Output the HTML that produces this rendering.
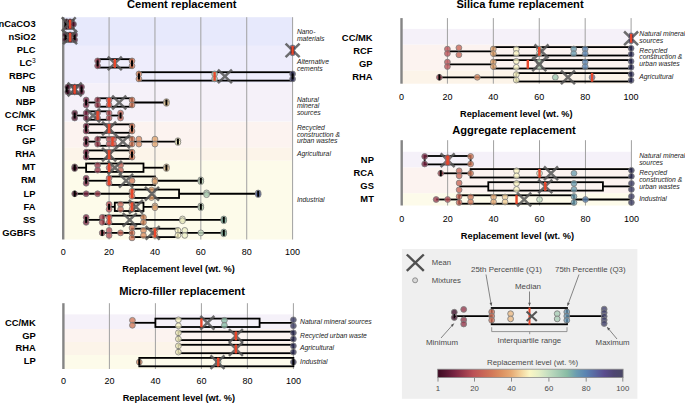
<!DOCTYPE html>
<html><head><meta charset="utf-8"><style>
html,body{margin:0;padding:0;background:#fff;}
body{width:685px;height:403px;overflow:hidden;font-family:"Liberation Sans",sans-serif;}
svg{display:block;}
</style></head><body>
<svg width="685" height="403" viewBox="0 0 685 403" font-family="'Liberation Sans', sans-serif">
<rect width="685" height="403" fill="#fff"/>
<rect x="63.20" y="17.20" width="229.40" height="28.70" fill="#e7e9fc"/>
<rect x="63.20" y="45.90" width="229.40" height="37.50" fill="#eeedfc"/>
<rect x="63.20" y="83.40" width="229.40" height="38.10" fill="#f5f1f9"/>
<rect x="63.20" y="121.70" width="229.40" height="26.00" fill="#fcf3f0"/>
<rect x="63.20" y="147.70" width="229.40" height="13.00" fill="#fcf4e9"/>
<rect x="63.20" y="160.70" width="229.40" height="78.80" fill="#fdfbea"/>
<line x1="109.08" y1="17.20" x2="109.08" y2="239.50" stroke="#a0a0a0" stroke-width="1"/>
<line x1="154.96" y1="17.20" x2="154.96" y2="239.50" stroke="#a0a0a0" stroke-width="1"/>
<line x1="200.84" y1="17.20" x2="200.84" y2="239.50" stroke="#a0a0a0" stroke-width="1"/>
<line x1="246.72" y1="17.20" x2="246.72" y2="239.50" stroke="#a0a0a0" stroke-width="1"/>
<line x1="292.60" y1="17.20" x2="292.60" y2="239.50" stroke="#a0a0a0" stroke-width="1"/>
<line x1="63.20" y1="17.20" x2="63.20" y2="239.50" stroke="#858585" stroke-width="2.4"/>
<text x="35.60" y="27.25" font-size="9.4" font-weight="bold" font-style="normal" text-anchor="end" fill="#000">nCaCO3</text>
<text x="35.60" y="40.27" font-size="9.4" font-weight="bold" font-style="normal" text-anchor="end" fill="#000">nSiO2</text>
<text x="35.60" y="53.29" font-size="9.4" font-weight="bold" font-style="normal" text-anchor="end" fill="#000">PLC</text>
<text x="35.60" y="66.31" font-size="9.4" font-weight="bold" font-style="normal" text-anchor="end" fill="#000">LC<tspan font-size="6.6" font-weight="normal" dy="-3.6">3</tspan></text>
<text x="35.60" y="79.33" font-size="9.4" font-weight="bold" font-style="normal" text-anchor="end" fill="#000">RBPC</text>
<text x="35.60" y="92.35" font-size="9.4" font-weight="bold" font-style="normal" text-anchor="end" fill="#000">NB</text>
<text x="35.60" y="105.37" font-size="9.4" font-weight="bold" font-style="normal" text-anchor="end" fill="#000">NBP</text>
<text x="35.60" y="118.39" font-size="9.4" font-weight="bold" font-style="normal" text-anchor="end" fill="#000">CC/MK</text>
<text x="35.60" y="131.41" font-size="9.4" font-weight="bold" font-style="normal" text-anchor="end" fill="#000">RCF</text>
<text x="35.60" y="144.43" font-size="9.4" font-weight="bold" font-style="normal" text-anchor="end" fill="#000">GP</text>
<text x="35.60" y="157.45" font-size="9.4" font-weight="bold" font-style="normal" text-anchor="end" fill="#000">RHA</text>
<text x="35.60" y="170.47" font-size="9.4" font-weight="bold" font-style="normal" text-anchor="end" fill="#000">MT</text>
<text x="35.60" y="183.49" font-size="9.4" font-weight="bold" font-style="normal" text-anchor="end" fill="#000">RM</text>
<text x="35.60" y="196.51" font-size="9.4" font-weight="bold" font-style="normal" text-anchor="end" fill="#000">LP</text>
<text x="35.60" y="209.53" font-size="9.4" font-weight="bold" font-style="normal" text-anchor="end" fill="#000">FA</text>
<text x="35.60" y="222.55" font-size="9.4" font-weight="bold" font-style="normal" text-anchor="end" fill="#000">SS</text>
<text x="35.60" y="235.57" font-size="9.4" font-weight="bold" font-style="normal" text-anchor="end" fill="#000">GGBFS</text>
<g><rect x="65.49" y="20.05" width="8.03" height="8.40" fill="none" stroke="#000" stroke-width="1.8"/><line x1="65.49" y1="37.29" x2="66.64" y2="37.29" stroke="#000" stroke-width="1.8"/><line x1="73.52" y1="37.29" x2="74.67" y2="37.29" stroke="#000" stroke-width="1.8"/><rect x="66.64" y="33.09" width="6.88" height="8.40" fill="none" stroke="#000" stroke-width="1.8"/><rect x="97.61" y="59.17" width="34.41" height="8.40" fill="none" stroke="#000" stroke-width="1.8"/><rect x="138.90" y="72.21" width="153.70" height="8.40" fill="none" stroke="#000" stroke-width="1.8"/><line x1="66.64" y1="89.45" x2="67.79" y2="89.45" stroke="#000" stroke-width="1.8"/><rect x="67.79" y="85.25" width="13.76" height="8.40" fill="none" stroke="#000" stroke-width="1.8"/><line x1="86.14" y1="102.49" x2="97.61" y2="102.49" stroke="#000" stroke-width="1.8"/><line x1="132.02" y1="102.49" x2="166.43" y2="102.49" stroke="#000" stroke-width="1.8"/><rect x="97.61" y="98.29" width="34.41" height="8.40" fill="none" stroke="#000" stroke-width="1.8"/><line x1="74.67" y1="115.53" x2="86.14" y2="115.53" stroke="#000" stroke-width="1.8"/><line x1="109.08" y1="115.53" x2="120.55" y2="115.53" stroke="#000" stroke-width="1.8"/><rect x="86.14" y="111.33" width="22.94" height="8.40" fill="none" stroke="#000" stroke-width="1.8"/><rect x="86.14" y="124.37" width="45.88" height="8.40" fill="none" stroke="#000" stroke-width="1.8"/><line x1="86.14" y1="141.61" x2="97.61" y2="141.61" stroke="#000" stroke-width="1.8"/><line x1="132.02" y1="141.61" x2="177.90" y2="141.61" stroke="#000" stroke-width="1.8"/><rect x="97.61" y="137.41" width="34.41" height="8.40" fill="none" stroke="#000" stroke-width="1.8"/><rect x="86.14" y="150.45" width="45.88" height="8.40" fill="none" stroke="#000" stroke-width="1.8"/><line x1="74.67" y1="167.69" x2="86.14" y2="167.69" stroke="#000" stroke-width="1.8"/><line x1="143.49" y1="167.69" x2="166.43" y2="167.69" stroke="#000" stroke-width="1.8"/><rect x="86.14" y="163.49" width="57.35" height="8.40" fill="none" stroke="#000" stroke-width="1.8"/><line x1="86.14" y1="180.73" x2="109.08" y2="180.73" stroke="#000" stroke-width="1.8"/><line x1="154.96" y1="180.73" x2="200.84" y2="180.73" stroke="#000" stroke-width="1.8"/><rect x="109.08" y="176.53" width="45.88" height="8.40" fill="none" stroke="#000" stroke-width="1.8"/><line x1="74.67" y1="193.77" x2="132.02" y2="193.77" stroke="#000" stroke-width="1.8"/><line x1="179.05" y1="193.77" x2="258.19" y2="193.77" stroke="#000" stroke-width="1.8"/><rect x="132.02" y="189.57" width="47.03" height="8.40" fill="none" stroke="#000" stroke-width="1.8"/><line x1="109.08" y1="206.81" x2="114.81" y2="206.81" stroke="#000" stroke-width="1.8"/><line x1="143.49" y1="206.81" x2="200.84" y2="206.81" stroke="#000" stroke-width="1.8"/><rect x="114.81" y="202.61" width="28.68" height="8.40" fill="none" stroke="#000" stroke-width="1.8"/><line x1="86.14" y1="219.85" x2="103.34" y2="219.85" stroke="#000" stroke-width="1.8"/><line x1="143.49" y1="219.85" x2="223.78" y2="219.85" stroke="#000" stroke-width="1.8"/><rect x="103.34" y="215.65" width="40.15" height="8.40" fill="none" stroke="#000" stroke-width="1.8"/><line x1="102.20" y1="232.89" x2="132.02" y2="232.89" stroke="#000" stroke-width="1.8"/><line x1="177.90" y1="232.89" x2="223.78" y2="232.89" stroke="#000" stroke-width="1.8"/><rect x="132.02" y="228.69" width="45.88" height="8.40" fill="none" stroke="#000" stroke-width="1.8"/></g>
<g stroke="#555" stroke-width="2.5" stroke-opacity="0.85" fill="none"><path d="M285.60,43.53L299.60,57.13M299.60,43.53L285.60,57.13"/></g>
<g stroke="#7c7c7c" stroke-width="0.8" fill-opacity="0.78"><circle cx="66.64" cy="21.75" r="2.9" fill="#410b24"/><circle cx="66.64" cy="26.75" r="2.9" fill="#410b24"/><circle cx="70.08" cy="21.75" r="2.9" fill="#491029"/><circle cx="70.08" cy="26.75" r="2.9" fill="#491029"/><circle cx="73.52" cy="24.25" r="2.9" fill="#51142e"/><circle cx="65.49" cy="34.79" r="2.9" fill="#3e0a22"/><circle cx="65.49" cy="39.79" r="2.9" fill="#3e0a22"/><circle cx="70.08" cy="34.79" r="2.9" fill="#491029"/><circle cx="70.08" cy="39.79" r="2.9" fill="#491029"/><circle cx="74.67" cy="34.79" r="2.9" fill="#541530"/><circle cx="74.67" cy="39.79" r="2.9" fill="#541530"/><circle cx="292.60" cy="47.83" r="2.9" fill="#34345c"/><circle cx="292.60" cy="52.83" r="2.9" fill="#34345c"/><circle cx="97.61" cy="60.87" r="2.9" fill="#9a3a4c"/><circle cx="97.61" cy="65.87" r="2.9" fill="#9a3a4c"/><circle cx="132.02" cy="60.87" r="2.9" fill="#d27858"/><circle cx="132.02" cy="65.87" r="2.9" fill="#d27858"/><circle cx="138.90" cy="73.91" r="2.9" fill="#d8865d"/><circle cx="138.90" cy="78.91" r="2.9" fill="#d8865d"/><circle cx="214.60" cy="73.91" r="2.9" fill="#a0c9b1"/><circle cx="214.60" cy="78.91" r="2.9" fill="#a0c9b1"/><circle cx="292.60" cy="73.91" r="2.9" fill="#34345c"/><circle cx="292.60" cy="78.91" r="2.9" fill="#34345c"/><circle cx="67.79" cy="86.95" r="2.9" fill="#440d26"/><circle cx="67.79" cy="91.95" r="2.9" fill="#440d26"/><circle cx="74.67" cy="86.95" r="2.9" fill="#541530"/><circle cx="74.67" cy="91.95" r="2.9" fill="#541530"/><circle cx="81.55" cy="86.95" r="2.9" fill="#6a1e3b"/><circle cx="81.55" cy="91.95" r="2.9" fill="#6a1e3b"/><circle cx="86.14" cy="99.99" r="2.9" fill="#782442"/><circle cx="86.14" cy="104.99" r="2.9" fill="#782442"/><circle cx="97.61" cy="99.99" r="2.9" fill="#9a3a4c"/><circle cx="97.61" cy="104.99" r="2.9" fill="#9a3a4c"/><circle cx="109.08" cy="99.99" r="2.9" fill="#bb5157"/><circle cx="109.08" cy="104.99" r="2.9" fill="#bb5157"/><circle cx="132.02" cy="99.99" r="2.9" fill="#d27858"/><circle cx="132.02" cy="104.99" r="2.9" fill="#d27858"/><circle cx="166.43" cy="101.59" r="2.9" fill="#f2cf98"/><circle cx="166.43" cy="103.39" r="2.9" fill="#f2cf98"/><circle cx="74.67" cy="113.03" r="2.9" fill="#541530"/><circle cx="74.67" cy="118.03" r="2.9" fill="#541530"/><circle cx="86.14" cy="113.03" r="2.9" fill="#782442"/><circle cx="86.14" cy="118.03" r="2.9" fill="#782442"/><circle cx="97.61" cy="113.03" r="2.9" fill="#9a3a4c"/><circle cx="97.61" cy="118.03" r="2.9" fill="#9a3a4c"/><circle cx="109.08" cy="113.03" r="2.9" fill="#bb5157"/><circle cx="109.08" cy="118.03" r="2.9" fill="#bb5157"/><circle cx="120.55" cy="113.03" r="2.9" fill="#c86456"/><circle cx="120.55" cy="118.03" r="2.9" fill="#c86456"/><circle cx="86.14" cy="126.07" r="2.9" fill="#782442"/><circle cx="86.14" cy="131.07" r="2.9" fill="#782442"/><circle cx="109.08" cy="126.07" r="2.9" fill="#bb5157"/><circle cx="109.08" cy="131.07" r="2.9" fill="#bb5157"/><circle cx="132.02" cy="126.07" r="2.9" fill="#d27858"/><circle cx="132.02" cy="131.07" r="2.9" fill="#d27858"/><circle cx="86.14" cy="139.11" r="2.9" fill="#782442"/><circle cx="86.14" cy="144.11" r="2.9" fill="#782442"/><circle cx="97.61" cy="139.11" r="2.9" fill="#9a3a4c"/><circle cx="97.61" cy="144.11" r="2.9" fill="#9a3a4c"/><circle cx="109.08" cy="139.11" r="2.9" fill="#bb5157"/><circle cx="109.08" cy="144.11" r="2.9" fill="#bb5157"/><circle cx="113.67" cy="139.11" r="2.9" fill="#c05957"/><circle cx="113.67" cy="144.11" r="2.9" fill="#c05957"/><circle cx="132.02" cy="139.11" r="2.9" fill="#d27858"/><circle cx="132.02" cy="144.11" r="2.9" fill="#d27858"/><circle cx="138.90" cy="139.11" r="2.9" fill="#d8865d"/><circle cx="138.90" cy="144.11" r="2.9" fill="#d8865d"/><circle cx="154.96" cy="139.11" r="2.9" fill="#e6a872"/><circle cx="154.96" cy="144.11" r="2.9" fill="#e6a872"/><circle cx="177.90" cy="140.71" r="2.9" fill="#fbf6c4"/><circle cx="177.90" cy="142.51" r="2.9" fill="#fbf6c4"/><circle cx="86.14" cy="152.15" r="2.9" fill="#782442"/><circle cx="86.14" cy="157.15" r="2.9" fill="#782442"/><circle cx="109.08" cy="152.15" r="2.9" fill="#bb5157"/><circle cx="109.08" cy="157.15" r="2.9" fill="#bb5157"/><circle cx="132.02" cy="152.15" r="2.9" fill="#d27858"/><circle cx="132.02" cy="157.15" r="2.9" fill="#d27858"/><circle cx="74.67" cy="166.79" r="2.9" fill="#541530"/><circle cx="74.67" cy="168.59" r="2.9" fill="#541530"/><circle cx="97.61" cy="165.19" r="2.9" fill="#9a3a4c"/><circle cx="97.61" cy="170.19" r="2.9" fill="#9a3a4c"/><circle cx="109.08" cy="167.69" r="2.9" fill="#bb5157"/><circle cx="120.55" cy="165.19" r="2.9" fill="#c86456"/><circle cx="120.55" cy="170.19" r="2.9" fill="#c86456"/><circle cx="166.43" cy="166.79" r="2.9" fill="#f2cf98"/><circle cx="166.43" cy="168.59" r="2.9" fill="#f2cf98"/><circle cx="86.14" cy="178.23" r="2.9" fill="#782442"/><circle cx="86.14" cy="183.23" r="2.9" fill="#782442"/><circle cx="109.08" cy="178.23" r="2.9" fill="#bb5157"/><circle cx="109.08" cy="183.23" r="2.9" fill="#bb5157"/><circle cx="132.02" cy="180.73" r="2.9" fill="#d27858"/><circle cx="154.96" cy="179.83" r="2.9" fill="#e6a872"/><circle cx="154.96" cy="181.63" r="2.9" fill="#e6a872"/><circle cx="200.84" cy="179.83" r="2.9" fill="#c4dec0"/><circle cx="200.84" cy="181.63" r="2.9" fill="#c4dec0"/><circle cx="74.67" cy="193.77" r="2.9" fill="#541530"/><circle cx="86.14" cy="193.77" r="2.9" fill="#782442"/><circle cx="97.61" cy="193.77" r="2.9" fill="#9a3a4c"/><circle cx="132.02" cy="191.27" r="2.9" fill="#d27858"/><circle cx="132.02" cy="196.27" r="2.9" fill="#d27858"/><circle cx="151.52" cy="189.97" r="2.9" fill="#e3a16d"/><circle cx="151.52" cy="197.57" r="2.9" fill="#e3a16d"/><circle cx="206.57" cy="192.87" r="2.9" fill="#b5d5ba"/><circle cx="206.57" cy="194.67" r="2.9" fill="#b5d5ba"/><circle cx="258.19" cy="192.97" r="2.9" fill="#5a68a2"/><circle cx="258.19" cy="194.57" r="2.9" fill="#5a68a2"/><circle cx="109.08" cy="204.31" r="2.9" fill="#bb5157"/><circle cx="109.08" cy="209.31" r="2.9" fill="#bb5157"/><circle cx="120.55" cy="204.31" r="2.9" fill="#c86456"/><circle cx="120.55" cy="209.31" r="2.9" fill="#c86456"/><circle cx="132.02" cy="204.31" r="2.9" fill="#d27858"/><circle cx="132.02" cy="209.31" r="2.9" fill="#d27858"/><circle cx="154.96" cy="205.91" r="2.9" fill="#e6a872"/><circle cx="154.96" cy="207.71" r="2.9" fill="#e6a872"/><circle cx="200.84" cy="205.91" r="2.9" fill="#c4dec0"/><circle cx="200.84" cy="207.71" r="2.9" fill="#c4dec0"/><circle cx="86.14" cy="217.35" r="2.9" fill="#782442"/><circle cx="86.14" cy="222.35" r="2.9" fill="#782442"/><circle cx="102.20" cy="217.35" r="2.9" fill="#a74350"/><circle cx="102.20" cy="222.35" r="2.9" fill="#a74350"/><circle cx="109.08" cy="217.35" r="2.9" fill="#bb5157"/><circle cx="109.08" cy="222.35" r="2.9" fill="#bb5157"/><circle cx="143.49" cy="217.35" r="2.9" fill="#dc9060"/><circle cx="143.49" cy="222.35" r="2.9" fill="#dc9060"/><circle cx="182.49" cy="218.95" r="2.9" fill="#f2f3c5"/><circle cx="182.49" cy="220.75" r="2.9" fill="#f2f3c5"/><circle cx="223.78" cy="218.95" r="2.9" fill="#88bca4"/><circle cx="223.78" cy="220.75" r="2.9" fill="#88bca4"/><circle cx="102.20" cy="232.89" r="2.9" fill="#a74350"/><circle cx="109.08" cy="230.39" r="2.9" fill="#bb5157"/><circle cx="109.08" cy="235.39" r="2.9" fill="#bb5157"/><circle cx="120.55" cy="232.89" r="2.9" fill="#c86456"/><circle cx="132.02" cy="227.89" r="2.9" fill="#d27858"/><circle cx="132.02" cy="232.89" r="2.9" fill="#d27858"/><circle cx="132.02" cy="237.89" r="2.9" fill="#d27858"/><circle cx="143.49" cy="230.39" r="2.9" fill="#dc9060"/><circle cx="143.49" cy="235.39" r="2.9" fill="#dc9060"/><circle cx="154.96" cy="230.39" r="2.9" fill="#e6a872"/><circle cx="154.96" cy="235.39" r="2.9" fill="#e6a872"/><circle cx="177.90" cy="230.39" r="2.9" fill="#fbf6c4"/><circle cx="177.90" cy="235.39" r="2.9" fill="#fbf6c4"/><circle cx="184.78" cy="230.39" r="2.9" fill="#edf1c5"/><circle cx="184.78" cy="235.39" r="2.9" fill="#edf1c5"/><circle cx="200.84" cy="232.89" r="2.9" fill="#c4dec0"/><circle cx="223.78" cy="231.99" r="2.9" fill="#88bca4"/><circle cx="223.78" cy="233.79" r="2.9" fill="#88bca4"/></g>
<g stroke="#000" stroke-width="2.0"><line x1="65.49" y1="21.25" x2="65.49" y2="27.25"/><line x1="65.49" y1="34.29" x2="65.49" y2="40.29"/><line x1="74.67" y1="34.29" x2="74.67" y2="40.29"/><line x1="292.60" y1="47.33" x2="292.60" y2="53.33"/><line x1="292.60" y1="47.33" x2="292.60" y2="53.33"/><line x1="97.61" y1="60.37" x2="97.61" y2="66.37"/><line x1="132.02" y1="60.37" x2="132.02" y2="66.37"/><line x1="138.90" y1="73.41" x2="138.90" y2="79.41"/><line x1="292.60" y1="73.41" x2="292.60" y2="79.41"/><line x1="66.64" y1="86.45" x2="66.64" y2="92.45"/><line x1="81.55" y1="86.45" x2="81.55" y2="92.45"/><line x1="86.14" y1="99.49" x2="86.14" y2="105.49"/><line x1="166.43" y1="99.49" x2="166.43" y2="105.49"/><line x1="74.67" y1="112.53" x2="74.67" y2="118.53"/><line x1="120.55" y1="112.53" x2="120.55" y2="118.53"/><line x1="86.14" y1="125.57" x2="86.14" y2="131.57"/><line x1="132.02" y1="125.57" x2="132.02" y2="131.57"/><line x1="86.14" y1="138.61" x2="86.14" y2="144.61"/><line x1="177.90" y1="138.61" x2="177.90" y2="144.61"/><line x1="86.14" y1="151.65" x2="86.14" y2="157.65"/><line x1="132.02" y1="151.65" x2="132.02" y2="157.65"/><line x1="74.67" y1="164.69" x2="74.67" y2="170.69"/><line x1="166.43" y1="164.69" x2="166.43" y2="170.69"/><line x1="86.14" y1="177.73" x2="86.14" y2="183.73"/><line x1="200.84" y1="177.73" x2="200.84" y2="183.73"/><line x1="74.67" y1="190.77" x2="74.67" y2="196.77"/><line x1="258.19" y1="190.77" x2="258.19" y2="196.77"/><line x1="109.08" y1="203.81" x2="109.08" y2="209.81"/><line x1="200.84" y1="203.81" x2="200.84" y2="209.81"/><line x1="86.14" y1="216.85" x2="86.14" y2="222.85"/><line x1="223.78" y1="216.85" x2="223.78" y2="222.85"/><line x1="102.20" y1="229.89" x2="102.20" y2="235.89"/><line x1="223.78" y1="229.89" x2="223.78" y2="235.89"/></g>
<g stroke="#555" stroke-width="2.5" stroke-opacity="0.85" fill="none"><path d="M61.71,17.45L75.71,31.05M75.71,17.45L61.71,31.05"/><path d="M63.08,30.49L77.08,44.09M77.08,30.49L63.08,44.09"/><path d="M107.81,56.57L121.81,70.17M121.81,56.57L107.81,70.17"/><path d="M217.93,69.61L231.93,83.21M231.93,69.61L217.93,83.21"/><path d="M67.67,82.65L81.67,96.25M81.67,82.65L67.67,96.25"/><path d="M112.17,95.69L126.17,109.29M126.17,95.69L112.17,109.29"/><path d="M86.02,108.73L100.02,122.33M100.02,108.73L86.02,122.33"/><path d="M102.08,121.77L116.08,135.37M116.08,121.77L102.08,135.37"/><path d="M115.84,134.81L129.84,148.41M129.84,134.81L115.84,148.41"/><path d="M102.08,147.85L116.08,161.45M116.08,147.85L102.08,161.45"/><path d="M107.81,160.89L121.81,174.49M121.81,160.89L107.81,174.49"/><path d="M119.06,173.93L133.06,187.53M133.06,173.93L119.06,187.53"/><path d="M144.98,186.97L158.98,200.57M158.98,186.97L144.98,200.57"/><path d="M128.92,200.01L142.92,213.61M142.92,200.01L128.92,213.61"/><path d="M122.73,213.05L136.73,226.65M136.73,213.05L122.73,226.65"/><path d="M145.67,226.09L159.67,239.69M159.67,226.09L145.67,239.69"/></g>
<g stroke="#e8472b" stroke-width="2.4"><line x1="70.08" y1="19.85" x2="70.08" y2="28.65"/><line x1="70.08" y1="32.89" x2="70.08" y2="41.69"/><line x1="292.60" y1="45.93" x2="292.60" y2="54.73"/><line x1="114.81" y1="58.97" x2="114.81" y2="67.77"/><line x1="214.60" y1="72.01" x2="214.60" y2="80.81"/><line x1="74.67" y1="85.05" x2="74.67" y2="93.85"/><line x1="109.08" y1="98.09" x2="109.08" y2="106.89"/><line x1="97.61" y1="111.13" x2="97.61" y2="119.93"/><line x1="109.08" y1="124.17" x2="109.08" y2="132.97"/><line x1="112.52" y1="137.21" x2="112.52" y2="146.01"/><line x1="109.08" y1="150.25" x2="109.08" y2="159.05"/><line x1="109.08" y1="163.29" x2="109.08" y2="172.09"/><line x1="109.08" y1="176.33" x2="109.08" y2="185.13"/><line x1="132.02" y1="189.37" x2="132.02" y2="198.17"/><line x1="132.02" y1="202.41" x2="132.02" y2="211.21"/><line x1="109.08" y1="215.45" x2="109.08" y2="224.25"/><line x1="154.96" y1="228.49" x2="154.96" y2="237.29"/></g>
<text x="63.20" y="255.20" font-size="9" font-weight="normal" font-style="normal" text-anchor="middle" fill="#000">0</text>
<text x="109.08" y="255.20" font-size="9" font-weight="normal" font-style="normal" text-anchor="middle" fill="#000">20</text>
<text x="154.96" y="255.20" font-size="9" font-weight="normal" font-style="normal" text-anchor="middle" fill="#000">40</text>
<text x="200.84" y="255.20" font-size="9" font-weight="normal" font-style="normal" text-anchor="middle" fill="#000">60</text>
<text x="246.72" y="255.20" font-size="9" font-weight="normal" font-style="normal" text-anchor="middle" fill="#000">80</text>
<text x="292.60" y="255.20" font-size="9" font-weight="normal" font-style="normal" text-anchor="middle" fill="#000">100</text>
<text x="122.30" y="272.30" font-size="9.4" font-weight="bold" font-style="normal" text-anchor="start" fill="#000" textLength="112.4" lengthAdjust="spacingAndGlyphs">Replacement level (wt. %)</text>
<text x="126.90" y="8.20" font-size="10.6" font-weight="bold" font-style="normal" text-anchor="start" fill="#000" textLength="109.7" lengthAdjust="spacingAndGlyphs">Cement replacement</text>
<text x="296.90" y="33.90" font-size="6.8" font-weight="normal" font-style="italic" text-anchor="start" fill="#222">Nano-</text>
<text x="296.90" y="40.90" font-size="6.8" font-weight="normal" font-style="italic" text-anchor="start" fill="#222">materials</text>
<text x="296.90" y="64.00" font-size="6.8" font-weight="normal" font-style="italic" text-anchor="start" fill="#222">Alternative</text>
<text x="296.90" y="70.70" font-size="6.8" font-weight="normal" font-style="italic" text-anchor="start" fill="#222">cements</text>
<text x="296.90" y="101.60" font-size="6.8" font-weight="normal" font-style="italic" text-anchor="start" fill="#222">Natural</text>
<text x="296.90" y="108.10" font-size="6.8" font-weight="normal" font-style="italic" text-anchor="start" fill="#222">mineral</text>
<text x="296.90" y="114.70" font-size="6.8" font-weight="normal" font-style="italic" text-anchor="start" fill="#222">sources</text>
<text x="296.90" y="130.00" font-size="6.8" font-weight="normal" font-style="italic" text-anchor="start" fill="#222">Recycled</text>
<text x="296.90" y="136.70" font-size="6.8" font-weight="normal" font-style="italic" text-anchor="start" fill="#222">construction &amp;</text>
<text x="296.90" y="143.40" font-size="6.8" font-weight="normal" font-style="italic" text-anchor="start" fill="#222">urban wastes</text>
<text x="296.90" y="156.30" font-size="6.8" font-weight="normal" font-style="italic" text-anchor="start" fill="#222">Agricultural</text>
<text x="296.90" y="202.10" font-size="6.8" font-weight="normal" font-style="italic" text-anchor="start" fill="#222">Industrial</text>
<rect x="401.50" y="28.90" width="229.60" height="15.80" fill="#f5f1f9"/>
<rect x="401.50" y="44.70" width="229.60" height="26.00" fill="#fcf3f0"/>
<rect x="401.50" y="70.70" width="229.60" height="13.00" fill="#fcf4e9"/>
<line x1="447.42" y1="18.10" x2="447.42" y2="83.70" stroke="#a0a0a0" stroke-width="1"/>
<line x1="493.34" y1="18.10" x2="493.34" y2="83.70" stroke="#a0a0a0" stroke-width="1"/>
<line x1="539.26" y1="18.10" x2="539.26" y2="83.70" stroke="#a0a0a0" stroke-width="1"/>
<line x1="585.18" y1="18.10" x2="585.18" y2="83.70" stroke="#a0a0a0" stroke-width="1"/>
<line x1="631.10" y1="18.10" x2="631.10" y2="83.70" stroke="#a0a0a0" stroke-width="1"/>
<line x1="401.50" y1="18.10" x2="401.50" y2="83.70" stroke="#858585" stroke-width="2.4"/>
<text x="372.60" y="41.00" font-size="9.4" font-weight="bold" font-style="normal" text-anchor="end" fill="#000">CC/MK</text>
<text x="372.60" y="53.90" font-size="9.4" font-weight="bold" font-style="normal" text-anchor="end" fill="#000">RCF</text>
<text x="372.60" y="66.80" font-size="9.4" font-weight="bold" font-style="normal" text-anchor="end" fill="#000">GP</text>
<text x="372.60" y="79.70" font-size="9.4" font-weight="bold" font-style="normal" text-anchor="end" fill="#000">RHA</text>
<g><line x1="447.42" y1="51.30" x2="493.34" y2="51.30" stroke="#000" stroke-width="1.8"/><rect x="493.34" y="47.10" width="137.76" height="8.40" fill="none" stroke="#000" stroke-width="1.8"/><line x1="447.42" y1="64.30" x2="493.34" y2="64.30" stroke="#000" stroke-width="1.8"/><rect x="493.34" y="60.10" width="137.76" height="8.40" fill="none" stroke="#000" stroke-width="1.8"/><line x1="439.38" y1="77.30" x2="516.30" y2="77.30" stroke="#000" stroke-width="1.8"/><rect x="516.30" y="73.10" width="114.80" height="8.40" fill="none" stroke="#000" stroke-width="1.8"/></g>
<g stroke="#555" stroke-width="2.5" stroke-opacity="0.85" fill="none"><path d="M624.10,31.50L638.10,45.10M638.10,31.50L624.10,45.10"/></g>
<g stroke="#7c7c7c" stroke-width="0.8" fill-opacity="0.78"><circle cx="631.10" cy="35.80" r="2.9" fill="#34345c"/><circle cx="631.10" cy="40.80" r="2.9" fill="#34345c"/><circle cx="447.42" cy="49.10" r="2.9" fill="#bb5157"/><circle cx="447.42" cy="53.50" r="2.9" fill="#bb5157"/><circle cx="458.90" cy="47.80" r="2.9" fill="#c86456"/><circle cx="458.90" cy="54.80" r="2.9" fill="#c86456"/><circle cx="493.34" cy="49.00" r="2.9" fill="#e6a872"/><circle cx="493.34" cy="53.60" r="2.9" fill="#e6a872"/><circle cx="516.30" cy="49.20" r="2.9" fill="#fbf6c4"/><circle cx="516.30" cy="53.40" r="2.9" fill="#fbf6c4"/><circle cx="539.26" cy="49.00" r="2.9" fill="#c4dec0"/><circle cx="539.26" cy="53.60" r="2.9" fill="#c4dec0"/><circle cx="573.70" cy="49.00" r="2.9" fill="#6a9cb0"/><circle cx="573.70" cy="53.60" r="2.9" fill="#6a9cb0"/><circle cx="585.18" cy="49.00" r="2.9" fill="#5a84b2"/><circle cx="585.18" cy="53.60" r="2.9" fill="#5a84b2"/><circle cx="631.10" cy="48.30" r="2.9" fill="#34345c"/><circle cx="631.10" cy="54.30" r="2.9" fill="#34345c"/><circle cx="447.42" cy="62.10" r="2.9" fill="#bb5157"/><circle cx="447.42" cy="66.50" r="2.9" fill="#bb5157"/><circle cx="493.34" cy="62.00" r="2.9" fill="#e6a872"/><circle cx="493.34" cy="66.60" r="2.9" fill="#e6a872"/><circle cx="516.30" cy="61.30" r="2.9" fill="#fbf6c4"/><circle cx="516.30" cy="67.30" r="2.9" fill="#fbf6c4"/><circle cx="539.26" cy="62.00" r="2.9" fill="#c4dec0"/><circle cx="539.26" cy="66.60" r="2.9" fill="#c4dec0"/><circle cx="585.18" cy="62.00" r="2.9" fill="#5a84b2"/><circle cx="585.18" cy="66.60" r="2.9" fill="#5a84b2"/><circle cx="631.10" cy="61.30" r="2.9" fill="#34345c"/><circle cx="631.10" cy="67.30" r="2.9" fill="#34345c"/><circle cx="439.38" cy="77.30" r="2.9" fill="#a4414f"/><circle cx="477.27" cy="77.30" r="2.9" fill="#d8865d"/><circle cx="516.30" cy="74.55" r="2.9" fill="#fbf6c4"/><circle cx="516.30" cy="80.05" r="2.9" fill="#fbf6c4"/><circle cx="555.33" cy="77.30" r="2.9" fill="#9ac6ae"/><circle cx="592.07" cy="77.30" r="2.9" fill="#5a73a8"/><circle cx="631.10" cy="74.30" r="2.9" fill="#34345c"/><circle cx="631.10" cy="80.30" r="2.9" fill="#34345c"/></g>
<g stroke="#000" stroke-width="2.0"><line x1="631.10" y1="35.30" x2="631.10" y2="41.30"/><line x1="631.10" y1="35.30" x2="631.10" y2="41.30"/><line x1="439.38" y1="74.30" x2="439.38" y2="80.30"/></g>
<g stroke="#555" stroke-width="2.5" stroke-opacity="0.85" fill="none"><path d="M534.56,44.50L548.56,58.10M548.56,44.50L534.56,58.10"/><path d="M532.26,57.50L546.26,71.10M546.26,57.50L532.26,71.10"/><path d="M560.96,70.50L574.96,84.10M574.96,70.50L560.96,84.10"/></g>
<g stroke="#e8472b" stroke-width="2.4"><line x1="631.10" y1="33.90" x2="631.10" y2="42.70"/><line x1="539.26" y1="46.90" x2="539.26" y2="55.70"/><line x1="527.78" y1="59.90" x2="527.78" y2="68.70"/><line x1="592.07" y1="72.90" x2="592.07" y2="81.70"/></g>
<text x="401.50" y="99.60" font-size="9" font-weight="normal" font-style="normal" text-anchor="middle" fill="#000">0</text>
<text x="447.42" y="99.60" font-size="9" font-weight="normal" font-style="normal" text-anchor="middle" fill="#000">20</text>
<text x="493.34" y="99.60" font-size="9" font-weight="normal" font-style="normal" text-anchor="middle" fill="#000">40</text>
<text x="539.26" y="99.60" font-size="9" font-weight="normal" font-style="normal" text-anchor="middle" fill="#000">60</text>
<text x="585.18" y="99.60" font-size="9" font-weight="normal" font-style="normal" text-anchor="middle" fill="#000">80</text>
<text x="631.10" y="99.60" font-size="9" font-weight="normal" font-style="normal" text-anchor="middle" fill="#000">100</text>
<text x="460.00" y="116.80" font-size="9.4" font-weight="bold" font-style="normal" text-anchor="start" fill="#000" textLength="112.5" lengthAdjust="spacingAndGlyphs">Replacement level (wt. %)</text>
<text x="456.40" y="8.40" font-size="10.6" font-weight="bold" font-style="normal" text-anchor="start" fill="#000" textLength="127.2" lengthAdjust="spacingAndGlyphs">Silica fume replacement</text>
<text x="639.30" y="35.90" font-size="6.8" font-weight="normal" font-style="italic" text-anchor="start" fill="#222">Natural mineral</text>
<text x="639.30" y="42.60" font-size="6.8" font-weight="normal" font-style="italic" text-anchor="start" fill="#222">sources</text>
<text x="639.30" y="52.50" font-size="6.8" font-weight="normal" font-style="italic" text-anchor="start" fill="#222">Recycled</text>
<text x="639.30" y="59.40" font-size="6.8" font-weight="normal" font-style="italic" text-anchor="start" fill="#222">construction &amp;</text>
<text x="639.30" y="66.40" font-size="6.8" font-weight="normal" font-style="italic" text-anchor="start" fill="#222">urban wastes</text>
<text x="639.30" y="78.80" font-size="6.8" font-weight="normal" font-style="italic" text-anchor="start" fill="#222">Agricultural</text>
<rect x="401.70" y="151.80" width="229.70" height="15.70" fill="#f5f1f9"/>
<rect x="401.70" y="167.50" width="229.70" height="25.70" fill="#fcf3f0"/>
<rect x="401.70" y="193.20" width="229.70" height="12.30" fill="#fdfbea"/>
<line x1="447.64" y1="140.20" x2="447.64" y2="205.50" stroke="#a0a0a0" stroke-width="1"/>
<line x1="493.58" y1="140.20" x2="493.58" y2="205.50" stroke="#a0a0a0" stroke-width="1"/>
<line x1="539.52" y1="140.20" x2="539.52" y2="205.50" stroke="#a0a0a0" stroke-width="1"/>
<line x1="585.46" y1="140.20" x2="585.46" y2="205.50" stroke="#a0a0a0" stroke-width="1"/>
<line x1="631.40" y1="140.20" x2="631.40" y2="205.50" stroke="#a0a0a0" stroke-width="1"/>
<line x1="401.70" y1="140.20" x2="401.70" y2="205.50" stroke="#858585" stroke-width="2.4"/>
<text x="373.90" y="162.80" font-size="9.4" font-weight="bold" font-style="normal" text-anchor="end" fill="#000">NP</text>
<text x="373.90" y="175.73" font-size="9.4" font-weight="bold" font-style="normal" text-anchor="end" fill="#000">RCA</text>
<text x="373.90" y="188.66" font-size="9.4" font-weight="bold" font-style="normal" text-anchor="end" fill="#000">GS</text>
<text x="373.90" y="201.59" font-size="9.4" font-weight="bold" font-style="normal" text-anchor="end" fill="#000">MT</text>
<g><rect x="424.67" y="156.00" width="45.94" height="8.40" fill="none" stroke="#000" stroke-width="1.8"/><line x1="440.75" y1="173.30" x2="470.61" y2="173.30" stroke="#000" stroke-width="1.8"/><rect x="470.61" y="169.10" width="160.79" height="8.40" fill="none" stroke="#000" stroke-width="1.8"/><line x1="459.12" y1="186.40" x2="488.30" y2="186.40" stroke="#000" stroke-width="1.8"/><line x1="602.92" y1="186.40" x2="631.40" y2="186.40" stroke="#000" stroke-width="1.8"/><rect x="488.30" y="182.20" width="114.62" height="8.40" fill="none" stroke="#000" stroke-width="1.8"/><line x1="436.15" y1="199.50" x2="459.12" y2="199.50" stroke="#000" stroke-width="1.8"/><line x1="573.98" y1="199.50" x2="631.40" y2="199.50" stroke="#000" stroke-width="1.8"/><rect x="459.12" y="195.30" width="114.85" height="8.40" fill="none" stroke="#000" stroke-width="1.8"/></g>
<g stroke="#555" stroke-width="2.5" stroke-opacity="0.85" fill="none"><path d="M440.64,153.40L454.64,167.00M454.64,153.40L440.64,167.00"/></g>
<g stroke="#7c7c7c" stroke-width="0.8" fill-opacity="0.78"><circle cx="424.67" cy="156.40" r="2.9" fill="#782442"/><circle cx="424.67" cy="164.00" r="2.9" fill="#782442"/><circle cx="447.64" cy="157.70" r="2.9" fill="#bb5157"/><circle cx="447.64" cy="162.70" r="2.9" fill="#bb5157"/><circle cx="470.61" cy="156.40" r="2.9" fill="#d27858"/><circle cx="470.61" cy="164.00" r="2.9" fill="#d27858"/><circle cx="440.75" cy="173.30" r="2.9" fill="#a74350"/><circle cx="459.12" cy="170.80" r="2.9" fill="#c86456"/><circle cx="459.12" cy="175.80" r="2.9" fill="#c86456"/><circle cx="470.61" cy="173.30" r="2.9" fill="#d27858"/><circle cx="516.55" cy="170.80" r="2.9" fill="#fbf6c4"/><circle cx="516.55" cy="175.80" r="2.9" fill="#fbf6c4"/><circle cx="539.52" cy="173.30" r="2.9" fill="#c4dec0"/><circle cx="573.98" cy="173.30" r="2.9" fill="#6a9cb0"/><circle cx="631.40" cy="170.30" r="2.9" fill="#34345c"/><circle cx="631.40" cy="176.30" r="2.9" fill="#34345c"/><circle cx="459.12" cy="183.00" r="2.9" fill="#c86456"/><circle cx="459.12" cy="189.80" r="2.9" fill="#c86456"/><circle cx="516.55" cy="183.40" r="2.9" fill="#fbf6c4"/><circle cx="516.55" cy="189.40" r="2.9" fill="#fbf6c4"/><circle cx="573.98" cy="183.40" r="2.9" fill="#6a9cb0"/><circle cx="573.98" cy="189.40" r="2.9" fill="#6a9cb0"/><circle cx="631.40" cy="183.40" r="2.9" fill="#34345c"/><circle cx="631.40" cy="189.40" r="2.9" fill="#34345c"/><circle cx="436.15" cy="199.50" r="2.9" fill="#9a3a4c"/><circle cx="447.64" cy="199.50" r="2.9" fill="#bb5157"/><circle cx="459.12" cy="196.50" r="2.9" fill="#c86456"/><circle cx="459.12" cy="202.50" r="2.9" fill="#c86456"/><circle cx="470.61" cy="197.00" r="2.9" fill="#d27858"/><circle cx="470.61" cy="202.00" r="2.9" fill="#d27858"/><circle cx="493.58" cy="197.00" r="2.9" fill="#e6a872"/><circle cx="493.58" cy="202.00" r="2.9" fill="#e6a872"/><circle cx="505.06" cy="197.00" r="2.9" fill="#f2cf98"/><circle cx="505.06" cy="202.00" r="2.9" fill="#f2cf98"/><circle cx="539.52" cy="199.50" r="2.9" fill="#c4dec0"/><circle cx="573.98" cy="196.50" r="2.9" fill="#6a9cb0"/><circle cx="573.98" cy="202.50" r="2.9" fill="#6a9cb0"/><circle cx="585.46" cy="199.50" r="2.9" fill="#5a84b2"/><circle cx="631.40" cy="196.50" r="2.9" fill="#34345c"/><circle cx="631.40" cy="202.50" r="2.9" fill="#34345c"/></g>
<g stroke="#000" stroke-width="2.0"><line x1="440.75" y1="170.30" x2="440.75" y2="176.30"/></g>
<g stroke="#555" stroke-width="2.5" stroke-opacity="0.85" fill="none"><path d="M544.00,166.50L558.00,180.10M558.00,166.50L544.00,180.10"/><path d="M538.26,179.60L552.26,193.20M552.26,179.60L538.26,193.20"/><path d="M517.13,192.70L531.13,206.30M531.13,192.70L517.13,206.30"/></g>
<g stroke="#e8472b" stroke-width="2.4"><line x1="447.64" y1="155.80" x2="447.64" y2="164.60"/><line x1="539.52" y1="168.90" x2="539.52" y2="177.70"/><line x1="545.26" y1="182.00" x2="545.26" y2="190.80"/><line x1="516.55" y1="195.10" x2="516.55" y2="203.90"/></g>
<text x="401.70" y="221.80" font-size="9" font-weight="normal" font-style="normal" text-anchor="middle" fill="#000">0</text>
<text x="447.64" y="221.80" font-size="9" font-weight="normal" font-style="normal" text-anchor="middle" fill="#000">20</text>
<text x="493.58" y="221.80" font-size="9" font-weight="normal" font-style="normal" text-anchor="middle" fill="#000">40</text>
<text x="539.52" y="221.80" font-size="9" font-weight="normal" font-style="normal" text-anchor="middle" fill="#000">60</text>
<text x="585.46" y="221.80" font-size="9" font-weight="normal" font-style="normal" text-anchor="middle" fill="#000">80</text>
<text x="631.40" y="221.80" font-size="9" font-weight="normal" font-style="normal" text-anchor="middle" fill="#000">100</text>
<text x="460.80" y="238.70" font-size="9.4" font-weight="bold" font-style="normal" text-anchor="start" fill="#000" textLength="113.2" lengthAdjust="spacingAndGlyphs">Replacement level (wt. %)</text>
<text x="452.20" y="134.30" font-size="10.6" font-weight="bold" font-style="normal" text-anchor="start" fill="#000" textLength="123.6" lengthAdjust="spacingAndGlyphs">Aggregate replacement</text>
<text x="639.20" y="157.90" font-size="6.8" font-weight="normal" font-style="italic" text-anchor="start" fill="#222">Natural mineral</text>
<text x="639.20" y="164.60" font-size="6.8" font-weight="normal" font-style="italic" text-anchor="start" fill="#222">sources</text>
<text x="639.20" y="174.90" font-size="6.8" font-weight="normal" font-style="italic" text-anchor="start" fill="#222">Recycled</text>
<text x="639.20" y="181.90" font-size="6.8" font-weight="normal" font-style="italic" text-anchor="start" fill="#222">construction &amp;</text>
<text x="639.20" y="188.80" font-size="6.8" font-weight="normal" font-style="italic" text-anchor="start" fill="#222">urban wastes</text>
<text x="639.20" y="201.10" font-size="6.8" font-weight="normal" font-style="italic" text-anchor="start" fill="#222">Industrial</text>
<rect x="63.40" y="314.40" width="230.00" height="14.60" fill="#f5f1f9"/>
<rect x="63.40" y="329.00" width="230.00" height="13.00" fill="#fcf3f0"/>
<rect x="63.40" y="342.00" width="230.00" height="13.00" fill="#fcf4e9"/>
<rect x="63.40" y="355.00" width="230.00" height="14.00" fill="#fdfbea"/>
<line x1="109.40" y1="303.20" x2="109.40" y2="369.00" stroke="#a0a0a0" stroke-width="1"/>
<line x1="155.40" y1="303.20" x2="155.40" y2="369.00" stroke="#a0a0a0" stroke-width="1"/>
<line x1="201.40" y1="303.20" x2="201.40" y2="369.00" stroke="#a0a0a0" stroke-width="1"/>
<line x1="247.40" y1="303.20" x2="247.40" y2="369.00" stroke="#a0a0a0" stroke-width="1"/>
<line x1="293.40" y1="303.20" x2="293.40" y2="369.00" stroke="#a0a0a0" stroke-width="1"/>
<line x1="63.40" y1="303.20" x2="63.40" y2="369.00" stroke="#858585" stroke-width="2.4"/>
<text x="35.70" y="325.70" font-size="9.4" font-weight="bold" font-style="normal" text-anchor="end" fill="#000">CC/MK</text>
<text x="35.70" y="338.55" font-size="9.4" font-weight="bold" font-style="normal" text-anchor="end" fill="#000">GP</text>
<text x="35.70" y="351.40" font-size="9.4" font-weight="bold" font-style="normal" text-anchor="end" fill="#000">RHA</text>
<text x="35.70" y="364.25" font-size="9.4" font-weight="bold" font-style="normal" text-anchor="end" fill="#000">LP</text>
<g><line x1="132.40" y1="322.80" x2="155.40" y2="322.80" stroke="#000" stroke-width="1.8"/><line x1="259.59" y1="322.80" x2="293.40" y2="322.80" stroke="#000" stroke-width="1.8"/><rect x="155.40" y="318.60" width="104.19" height="8.40" fill="none" stroke="#000" stroke-width="1.8"/><rect x="178.40" y="331.70" width="115.00" height="8.40" fill="none" stroke="#000" stroke-width="1.8"/><rect x="178.40" y="344.80" width="115.00" height="8.40" fill="none" stroke="#000" stroke-width="1.8"/><rect x="139.30" y="357.90" width="154.10" height="8.40" fill="none" stroke="#000" stroke-width="1.8"/></g>
<g stroke="#555" stroke-width="2.5" stroke-opacity="0.85" fill="none"></g>
<g stroke="#7c7c7c" stroke-width="0.8" fill-opacity="0.78"><circle cx="132.40" cy="320.30" r="2.9" fill="#d27858"/><circle cx="132.40" cy="325.30" r="2.9" fill="#d27858"/><circle cx="178.40" cy="319.80" r="2.9" fill="#fbf6c4"/><circle cx="178.40" cy="325.80" r="2.9" fill="#fbf6c4"/><circle cx="224.40" cy="320.30" r="2.9" fill="#88bca4"/><circle cx="224.40" cy="325.30" r="2.9" fill="#88bca4"/><circle cx="293.40" cy="319.80" r="2.9" fill="#34345c"/><circle cx="293.40" cy="325.80" r="2.9" fill="#34345c"/><circle cx="178.40" cy="332.80" r="2.9" fill="#fbf6c4"/><circle cx="178.40" cy="339.00" r="2.9" fill="#fbf6c4"/><circle cx="293.40" cy="332.80" r="2.9" fill="#34345c"/><circle cx="293.40" cy="339.00" r="2.9" fill="#34345c"/><circle cx="178.40" cy="345.90" r="2.9" fill="#fbf6c4"/><circle cx="178.40" cy="352.10" r="2.9" fill="#fbf6c4"/><circle cx="293.40" cy="345.90" r="2.9" fill="#34345c"/><circle cx="293.40" cy="352.10" r="2.9" fill="#34345c"/><circle cx="139.30" cy="362.10" r="2.9" fill="#d8865d"/><circle cx="218.19" cy="362.10" r="2.9" fill="#98c5ad"/><circle cx="293.40" cy="362.10" r="2.9" fill="#34345c"/></g>
<g stroke="#000" stroke-width="2.0"><line x1="139.30" y1="359.10" x2="139.30" y2="365.10"/><line x1="293.40" y1="359.10" x2="293.40" y2="365.10"/></g>
<g stroke="#555" stroke-width="2.5" stroke-opacity="0.85" fill="none"><path d="M200.38,316.00L214.38,329.60M214.38,316.00L200.38,329.60"/><path d="M228.90,329.10L242.90,342.70M242.90,329.10L228.90,342.70"/><path d="M228.90,342.20L242.90,355.80M242.90,342.20L228.90,355.80"/><path d="M210.50,355.30L224.50,368.90M224.50,355.30L210.50,368.90"/></g>
<g stroke="#e8472b" stroke-width="2.4"><line x1="201.40" y1="318.40" x2="201.40" y2="327.20"/><line x1="235.90" y1="331.50" x2="235.90" y2="340.30"/><line x1="235.90" y1="344.60" x2="235.90" y2="353.40"/><line x1="218.19" y1="357.70" x2="218.19" y2="366.50"/></g>
<text x="63.40" y="384.30" font-size="9" font-weight="normal" font-style="normal" text-anchor="middle" fill="#000">0</text>
<text x="109.40" y="384.30" font-size="9" font-weight="normal" font-style="normal" text-anchor="middle" fill="#000">20</text>
<text x="155.40" y="384.30" font-size="9" font-weight="normal" font-style="normal" text-anchor="middle" fill="#000">40</text>
<text x="201.40" y="384.30" font-size="9" font-weight="normal" font-style="normal" text-anchor="middle" fill="#000">60</text>
<text x="247.40" y="384.30" font-size="9" font-weight="normal" font-style="normal" text-anchor="middle" fill="#000">80</text>
<text x="293.40" y="384.30" font-size="9" font-weight="normal" font-style="normal" text-anchor="middle" fill="#000">100</text>
<text x="122.70" y="400.70" font-size="9.4" font-weight="bold" font-style="normal" text-anchor="start" fill="#000" textLength="112.4" lengthAdjust="spacingAndGlyphs">Replacement level (wt. %)</text>
<text x="119.20" y="294.60" font-size="10.6" font-weight="bold" font-style="normal" text-anchor="start" fill="#000" textLength="125.7" lengthAdjust="spacingAndGlyphs">Micro-filler replacement</text>
<text x="300.00" y="323.80" font-size="6.8" font-weight="normal" font-style="italic" text-anchor="start" fill="#222">Natural mineral sources</text>
<text x="300.00" y="337.70" font-size="6.8" font-weight="normal" font-style="italic" text-anchor="start" fill="#222">Recycled urban waste</text>
<text x="300.00" y="349.90" font-size="6.8" font-weight="normal" font-style="italic" text-anchor="start" fill="#222">Agricultural</text>
<text x="300.00" y="363.80" font-size="6.8" font-weight="normal" font-style="italic" text-anchor="start" fill="#222">Industrial</text>
<rect x="401.9" y="249" width="235.5" height="149.8" fill="#efefef"/>
<path d="M406.8,254.5L423.8,270.9M423.8,254.5L406.8,270.9" stroke="#505050" stroke-width="2.4" fill="none"/>
<text x="431.80" y="264.90" font-size="7.8" font-weight="normal" font-style="normal" text-anchor="start" fill="#4a4a4a" textLength="19.2" lengthAdjust="spacingAndGlyphs">Mean</text>
<circle cx="415.1" cy="280.3" r="2.5" fill="#d8d8d8" stroke="#7a7a7a" stroke-width="0.8"/>
<text x="431.80" y="282.70" font-size="7.8" font-weight="normal" font-style="normal" text-anchor="start" fill="#4a4a4a" textLength="29.2" lengthAdjust="spacingAndGlyphs">Mixtures</text>
<text x="471.00" y="272.00" font-size="7.8" font-weight="normal" font-style="normal" text-anchor="start" fill="#4a4a4a" textLength="71.0" lengthAdjust="spacingAndGlyphs">25th Percentile (Q1)</text>
<text x="555.00" y="272.00" font-size="7.8" font-weight="normal" font-style="normal" text-anchor="start" fill="#4a4a4a" textLength="70.6" lengthAdjust="spacingAndGlyphs">75th Percentile (Q3)</text>
<text x="515.00" y="289.40" font-size="7.8" font-weight="normal" font-style="normal" text-anchor="start" fill="#4a4a4a" textLength="26.0" lengthAdjust="spacingAndGlyphs">Median</text>
<line x1="454.3" y1="316.1" x2="491.7" y2="316.1" stroke="#000" stroke-width="1.8"/>
<line x1="567" y1="316.1" x2="604.2" y2="316.1" stroke="#000" stroke-width="1.8"/>
<rect x="491.7" y="308.0" width="75.3" height="16.3" fill="none" stroke="#000" stroke-width="1.8"/>
<circle cx="454.3" cy="312.20" r="2.9" fill="#3a0c26" stroke="#808080" stroke-width="0.9" fill-opacity="0.78"/>
<circle cx="454.3" cy="317.50" r="2.9" fill="#3a0c26" stroke="#808080" stroke-width="0.9" fill-opacity="0.78"/>
<circle cx="463.7" cy="309.40" r="2.9" fill="#93364a" stroke="#808080" stroke-width="0.9" fill-opacity="0.78"/>
<circle cx="463.7" cy="319.90" r="2.9" fill="#93364a" stroke="#808080" stroke-width="0.9" fill-opacity="0.78"/>
<circle cx="463.7" cy="324.00" r="2.9" fill="#93364a" stroke="#808080" stroke-width="0.9" fill-opacity="0.78"/>
<circle cx="491.7" cy="312.00" r="2.9" fill="#ce7057" stroke="#808080" stroke-width="0.9" fill-opacity="0.78"/>
<circle cx="491.7" cy="316.10" r="2.9" fill="#ce7057" stroke="#808080" stroke-width="0.9" fill-opacity="0.78"/>
<circle cx="491.7" cy="320.20" r="2.9" fill="#ce7057" stroke="#808080" stroke-width="0.9" fill-opacity="0.78"/>
<circle cx="510.6" cy="313.70" r="2.9" fill="#ebb881" stroke="#808080" stroke-width="0.9" fill-opacity="0.78"/>
<circle cx="510.6" cy="318.90" r="2.9" fill="#ebb881" stroke="#808080" stroke-width="0.9" fill-opacity="0.78"/>
<circle cx="557.2" cy="313.70" r="2.9" fill="#a6ccb4" stroke="#808080" stroke-width="0.9" fill-opacity="0.78"/>
<circle cx="557.2" cy="318.90" r="2.9" fill="#a6ccb4" stroke="#808080" stroke-width="0.9" fill-opacity="0.78"/>
<circle cx="566.8" cy="312.00" r="2.9" fill="#6492b1" stroke="#808080" stroke-width="0.9" fill-opacity="0.78"/>
<circle cx="566.8" cy="316.10" r="2.9" fill="#6492b1" stroke="#808080" stroke-width="0.9" fill-opacity="0.78"/>
<circle cx="566.8" cy="320.20" r="2.9" fill="#6492b1" stroke="#808080" stroke-width="0.9" fill-opacity="0.78"/>
<circle cx="604.2" cy="309.10" r="2.9" fill="#3e3e68" stroke="#808080" stroke-width="0.9" fill-opacity="0.78"/>
<circle cx="604.2" cy="312.70" r="2.9" fill="#3e3e68" stroke="#808080" stroke-width="0.9" fill-opacity="0.78"/>
<circle cx="604.2" cy="316.30" r="2.9" fill="#3e3e68" stroke="#808080" stroke-width="0.9" fill-opacity="0.78"/>
<circle cx="604.2" cy="319.90" r="2.9" fill="#3e3e68" stroke="#808080" stroke-width="0.9" fill-opacity="0.78"/>
<circle cx="604.2" cy="323.50" r="2.9" fill="#3e3e68" stroke="#808080" stroke-width="0.9" fill-opacity="0.78"/>
<line x1="454.3" y1="313.90000000000003" x2="454.3" y2="318.3" stroke="#000" stroke-width="1.2"/>
<line x1="529.5" y1="307.6" x2="529.5" y2="324.6" stroke="#e8472b" stroke-width="2"/>
<path d="M526.6,311.5L536.8,320.9M536.8,311.5L526.6,320.9" stroke="#555" stroke-width="2.1" fill="none"/>
<line x1="486" y1="274.5" x2="491.4" y2="305.8" stroke="#555" stroke-width="0.7"/>
<path d="M491.40,305.80L489.51,303.08L492.27,302.61Z" fill="#555"/>
<line x1="529.5" y1="291.5" x2="529.5" y2="305.8" stroke="#555" stroke-width="0.7"/>
<path d="M529.50,305.80L528.10,302.80L530.90,302.80Z" fill="#555"/>
<line x1="579" y1="274.5" x2="567.5" y2="305.8" stroke="#555" stroke-width="0.7"/>
<path d="M567.50,305.80L567.22,302.50L569.85,303.47Z" fill="#555"/>
<line x1="441" y1="338" x2="453.8" y2="323.6" stroke="#555" stroke-width="0.7"/>
<path d="M453.80,323.60L452.85,326.77L450.76,324.91Z" fill="#555"/>
<line x1="617" y1="339" x2="607.2" y2="327.2" stroke="#555" stroke-width="0.7"/>
<path d="M607.20,327.20L610.19,328.61L608.04,330.40Z" fill="#555"/>
<path d="M491.7,327.2V331.6H567V327.2M529.7,331.6V334.2" stroke="#8a8a8a" stroke-width="0.9" fill="none"/>
<text x="497.50" y="343.40" font-size="7.8" font-weight="normal" font-style="normal" text-anchor="start" fill="#4a4a4a" textLength="63.7" lengthAdjust="spacingAndGlyphs">Interquartile range</text>
<text x="426.00" y="344.60" font-size="7.8" font-weight="normal" font-style="normal" text-anchor="start" fill="#4a4a4a" textLength="32.0" lengthAdjust="spacingAndGlyphs">Minimum</text>
<text x="595.60" y="345.40" font-size="7.8" font-weight="normal" font-style="normal" text-anchor="start" fill="#4a4a4a" textLength="34.0" lengthAdjust="spacingAndGlyphs">Maximum</text>
<text x="487.00" y="364.90" font-size="7.8" font-weight="normal" font-style="normal" text-anchor="start" fill="#4a4a4a" textLength="91.2" lengthAdjust="spacingAndGlyphs">Replacement level (wt. %)</text>
<defs><linearGradient id="cb" x1="0" x2="1" y1="0" y2="0"><stop offset="0.0000" stop-color="#3e0a22"/><stop offset="0.0404" stop-color="#541530"/><stop offset="0.0909" stop-color="#782442"/><stop offset="0.1414" stop-color="#9a3a4c"/><stop offset="0.1919" stop-color="#bb5157"/><stop offset="0.2424" stop-color="#c86456"/><stop offset="0.2929" stop-color="#d27858"/><stop offset="0.3434" stop-color="#dc9060"/><stop offset="0.3939" stop-color="#e6a872"/><stop offset="0.4444" stop-color="#f2cf98"/><stop offset="0.4949" stop-color="#fbf6c4"/><stop offset="0.5455" stop-color="#e4eec6"/><stop offset="0.5960" stop-color="#c4dec0"/><stop offset="0.6465" stop-color="#a6ccb4"/><stop offset="0.6970" stop-color="#88bca4"/><stop offset="0.7475" stop-color="#6a9cb0"/><stop offset="0.7980" stop-color="#5a84b2"/><stop offset="0.8485" stop-color="#5a68a2"/><stop offset="0.8990" stop-color="#5a4c8e"/><stop offset="0.9495" stop-color="#4e4672"/><stop offset="1.0000" stop-color="#4a4866"/></linearGradient></defs>
<rect x="437.7" y="369.2" width="185.4" height="8.4" fill="url(#cb)" stroke="#8a8a8a" stroke-width="0.8"/>
<line x1="438.0" y1="377.6" x2="438.0" y2="381.6" stroke="#8a8a8a" stroke-width="1"/>
<text x="438.00" y="390.50" font-size="7.8" font-weight="normal" font-style="normal" text-anchor="middle" fill="#4a4a4a">1</text>
<line x1="474.5" y1="377.6" x2="474.5" y2="381.6" stroke="#8a8a8a" stroke-width="1"/>
<text x="474.50" y="390.50" font-size="7.8" font-weight="normal" font-style="normal" text-anchor="middle" fill="#4a4a4a">20</text>
<line x1="511.5" y1="377.6" x2="511.5" y2="381.6" stroke="#8a8a8a" stroke-width="1"/>
<text x="511.50" y="390.50" font-size="7.8" font-weight="normal" font-style="normal" text-anchor="middle" fill="#4a4a4a">40</text>
<line x1="548.9" y1="377.6" x2="548.9" y2="381.6" stroke="#8a8a8a" stroke-width="1"/>
<text x="548.90" y="390.50" font-size="7.8" font-weight="normal" font-style="normal" text-anchor="middle" fill="#4a4a4a">60</text>
<line x1="586.2" y1="377.6" x2="586.2" y2="381.6" stroke="#8a8a8a" stroke-width="1"/>
<text x="586.20" y="390.50" font-size="7.8" font-weight="normal" font-style="normal" text-anchor="middle" fill="#4a4a4a">80</text>
<line x1="622.8" y1="377.6" x2="622.8" y2="381.6" stroke="#8a8a8a" stroke-width="1"/>
<text x="622.80" y="390.50" font-size="7.8" font-weight="normal" font-style="normal" text-anchor="middle" fill="#4a4a4a">100</text>
</svg>
</body></html>
